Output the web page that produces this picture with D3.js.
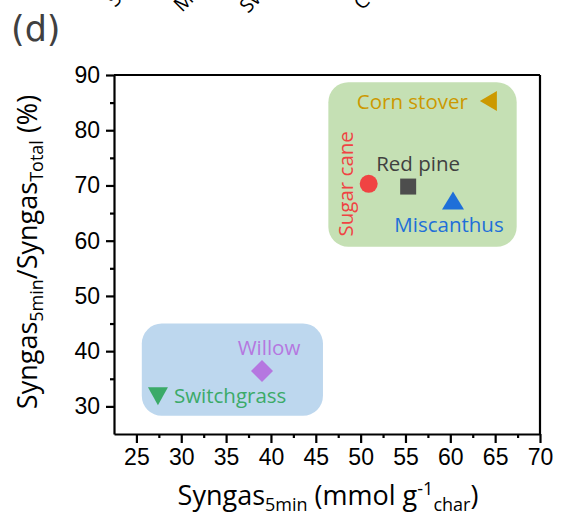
<!DOCTYPE html>
<html><head><meta charset="utf-8">
<script src="https://cdn.jsdelivr.net/npm/d3@7"></script>
<style>body{margin:0;background:#fff}svg{display:block}</style>
</head><body>
<svg id="c" width="565" height="520"></svg>
<script>
// ---- data ----
const names = ["Corn stover", "Sugar cane", "Red pine", "Miscanthus", "Willow", "Switchgrass"];
const syngas5min = [64.3, 50.9, 55.3, 60.3, 39.0, 27.4];
const ratioPct = [85.3, 70.3, 69.8, 67.1, 36.4, 32.0];
const xTicks = [25, 30, 35, 40, 45, 50, 55, 60, 65, 70];
const yTicks = [30, 40, 50, 60, 70, 80, 90];
const groupX0 = [46.4, 25.6];
const groupX1 = [67.4, 45.8];
const groupY0 = [58.9, 28.3];
const groupY1 = [88.7, 45.0];
const topFragments = ["Sugar cane", "Miscanthus", "Switchgrass", "Corn stover"];

// ---- styles ----
const colors = ["#CC9900", "#F04343", "#4D4D4D", "#1E6FD9", "#B577E0", "#3BAA68"];
const textColors = ["#CC9900", "#F04343", "#404040", "#1E6FD9", "#B577E0", "#3BAA68"];
const groupFill = ["#C5E0B4", "#BDD7EE"];
const labelFont = "'Open Sans', sans-serif";

const svg = d3.select("#c");
const x = d3.scaleLinear().domain([22.5, 70]).range([114, 540]);
const y = d3.scaleLinear().domain([25, 90]).range([434, 75]);

// group boxes
svg.selectAll("rect.grp").data(groupX0).join("rect")
  .attr("x", (d, i) => x(groupX0[i]))
  .attr("y", (d, i) => y(groupY1[i]))
  .attr("width", (d, i) => x(groupX1[i]) - x(groupX0[i]))
  .attr("height", (d, i) => y(groupY0[i]) - y(groupY1[i]))
  .attr("rx", 20).attr("ry", 20)
  .attr("fill", (d, i) => groupFill[i]);

// axes
const ax = svg.append("g").attr("transform", "translate(0,434)")
  .call(d3.axisBottom(x).tickValues(xTicks).tickSize(9).tickSizeOuter(0).tickPadding(6));
const axMinor = svg.append("g").attr("transform", "translate(0,434)")
  .call(d3.axisBottom(x).tickValues(d3.range(27.5, 70, 5)).tickSize(4).tickSizeOuter(0).tickFormat(""));
const ay = svg.append("g").attr("transform", "translate(114,0)")
  .call(d3.axisLeft(y).tickValues(yTicks).tickSize(8).tickSizeOuter(0).tickPadding(6));
const ayMinor = svg.append("g").attr("transform", "translate(114,0)")
  .call(d3.axisLeft(y).tickValues(d3.range(35, 90, 10)).tickSize(4).tickSizeOuter(0).tickFormat(""));
[ax, axMinor, ay, ayMinor].forEach(g => {
  g.selectAll("path.domain").attr("stroke", "#000").attr("stroke-width", 2.2);
  g.selectAll(".tick line").attr("stroke", "#000").attr("stroke-width", 2.2);
  g.selectAll(".tick text").attr("fill", "#000")
    .style("font-family", "'Liberation Sans', Arial, sans-serif").style("font-size", "23px");
});
axMinor.select("path.domain").remove();
ayMinor.select("path.domain").remove();
// top & right frame
svg.append("line").attr("x1", x(22.5)).attr("x2", x(70)).attr("y1", y(90)).attr("y2", y(90))
  .attr("stroke", "#000").attr("stroke-width", 2.2);
svg.append("line").attr("x1", x(70)).attr("x2", x(70)).attr("y1", y(90)).attr("y2", y(25))
  .attr("stroke", "#000").attr("stroke-width", 2.2);

// markers
const shapes = [
  d => `M${d[0] - 9},${d[1]} L${d[0] + 8},${d[1] - 10} L${d[0] + 8},${d[1] + 10} Z`,
  null,
  d => `M${d[0] - 8},${d[1] - 8} h16 v16 h-16 Z`,
  d => `M${d[0]},${d[1] - 10} L${d[0] + 11},${d[1] + 8} L${d[0] - 11},${d[1] + 8} Z`,
  d => `M${d[0]},${d[1] - 11} L${d[0] + 11},${d[1]} L${d[0]},${d[1] + 11} L${d[0] - 11},${d[1]} Z`,
  d => `M${d[0] - 10},${d[1] - 8} L${d[0] + 10},${d[1] - 8} L${d[0]},${d[1] + 10} Z`
];
names.forEach((n, i) => {
  const p = [x(syngas5min[i]), y(ratioPct[i])];
  if (i === 1) svg.append("circle").attr("cx", p[0]).attr("cy", p[1]).attr("r", 9).attr("fill", colors[i]);
  else svg.append("path").attr("d", shapes[i](p)).attr("fill", colors[i]);
});

// labels (offsets relative to points)
const labelOffsets = [[-21, 0, "end", 0], [-24, 0, "middle", -90], [-32, -24, "start", 0],
  [-4, 23, "middle", 0], [7, -24, "middle", 0], [16, 0, "start", 0]];
names.forEach((n, i) => {
  const o = labelOffsets[i];
  const px = x(syngas5min[i]) + o[0], py = y(ratioPct[i]) + o[1];
  svg.append("text").text(n)
    .attr("transform", `translate(${px},${py}) rotate(${o[3]})`)
    .attr("text-anchor", o[2]).attr("dominant-baseline", "central")
    .attr("fill", textColors[i])
    .style("font-family", labelFont).style("font-size", "20.5px");
});

// axis titles
const titleFont = "'Open Sans', sans-serif";
const xt = svg.append("text").attr("x", 328).attr("y", 505).attr("text-anchor", "middle")
  .style("font-family", titleFont).style("font-size", "27px").attr("fill", "#000");
xt.append("tspan").text("Syngas");
xt.append("tspan").text("5min").attr("dy", 6).style("font-size", "18px");
xt.append("tspan").text(" (mmol g").attr("dy", -6);
xt.append("tspan").text("-1").attr("dy", -10).style("font-size", "18px");
xt.append("tspan").text("char").attr("dy", 16).style("font-size", "18px");
xt.append("tspan").text(")").attr("dy", -6);

const yt = svg.append("text").attr("transform", "translate(37,252) rotate(-90)").attr("text-anchor", "middle")
  .style("font-family", titleFont).style("font-size", "27px").attr("fill", "#000");
yt.append("tspan").text("Syngas");
yt.append("tspan").text("5min").attr("dy", 6).style("font-size", "18px");
yt.append("tspan").text("/Syngas").attr("dy", -6);
yt.append("tspan").text("Total").attr("dy", 6).style("font-size", "18px");
yt.append("tspan").text(" (%)").attr("dy", -6);

// panel letter
svg.append("text").text("(d)").attr("x", 11).attr("y", 41)
  .style("font-family", "'DejaVu Sans', sans-serif").style("font-size", "35px").attr("fill", "#404040");

// fragments of the panel above (cut off)
const fragX = [115, 182, 248, 362];
const fragY = [8, 13, 14, 11];
topFragments.forEach((t, i) => {
  svg.append("text").text(t)
    .attr("transform", `translate(${fragX[i]},${fragY[i]}) rotate(-45)`)
    .style("font-family", titleFont).style("font-size", "20px").attr("fill", "#000");
});
</script>
</body></html>
